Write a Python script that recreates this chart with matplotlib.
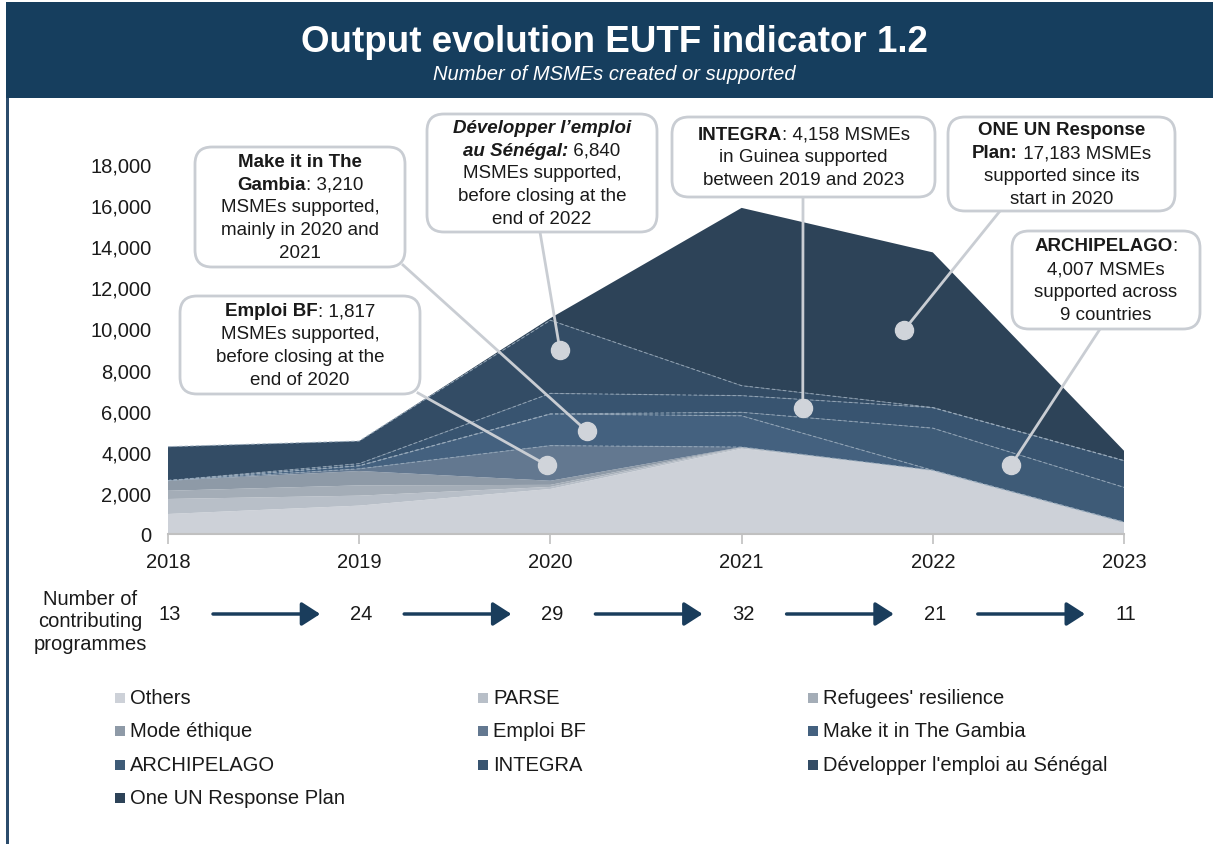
import matplotlib
matplotlib.use("Agg")
import matplotlib.pyplot as plt
from matplotlib.patches import FancyBboxPatch, Rectangle, FancyArrowPatch
from matplotlib.lines import Line2D
import numpy as np

plt.rcParams['font.family'] = ['Liberation Sans', 'DejaVu Sans']

# ---------------- data ----------------
years = [2018, 2019, 2020, 2021, 2022, 2023]
series_names = ["Others", "PARSE", "Refugees' resilience", "Mode éthique", "Emploi BF",
                "Make it in The Gambia", "ARCHIPELAGO", "INTEGRA",
                "Développer l'emploi au Sénégal", "One UN Response Plan"]
others      = [973, 1380, 2190, 4150, 3100, 580]
parse       = [730, 485, 100, 50, 0, 0]
refugees    = [400, 500, 100, 30, 0, 0]
mode_ethique = [495, 700, 200, 0, 0, 0]
emploi_bf   = [0, 107, 1710, 0, 0, 0]
gambia      = [0, 150, 1540, 1520, 0, 0]
archipelago = [0, 0, 0, 170, 2050, 1690]
integra     = [0, 100, 1000, 810, 1000, 1300]
developper  = [1650, 1100, 3560, 485, 0, 0]
one_un      = [0, 0, 100, 8650, 7550, 480]
programmes_count = [13, 24, 29, 32, 21, 11]
yticks = [0, 2000, 4000, 6000, 8000, 10000, 12000, 14000, 16000, 18000]

colors = ["#cdd1d8", "#b8bfc8", "#a4adb7", "#8e9aa7", "#637890",
          "#44617f", "#3e5b77", "#385470", "#334c65", "#2d4358"]

W, H = 1213, 845
fig = plt.figure(figsize=(W / 100, H / 100), dpi=100)
fig.patch.set_facecolor("white")

def fx(x):
    return x / W

def fy(y):
    return 1 - y / H

# header
fig.add_artist(Rectangle((fx(6), fy(99)), fx(1213) - fx(6), fy(3) - fy(99),
                         transform=fig.transFigure, facecolor="#163e5e",
                         edgecolor="none", zorder=1))
fig.add_artist(Rectangle((fx(6), fy(845)), fx(2.5), fy(99) - fy(845),
                         transform=fig.transFigure, facecolor="#2b4c6c",
                         edgecolor="none", zorder=1))
fig.text(fx(614), fy(42), "Output evolution EUTF indicator 1.2", color="white",
         fontsize=26.5, fontweight="bold", ha="center", va="center", zorder=2)
fig.text(fx(614), fy(75), "Number of MSMEs created or supported", color="white",
         fontsize=14.5, style="italic", ha="center", va="center", zorder=2)

# ---------------- axes ----------------
ax = fig.add_axes([fx(168), fy(535), fx(1124) - fx(168), fy(165) - fy(535)])
data = [others, parse, refugees, mode_ethique, emploi_bf, gambia,
        archipelago, integra, developper, one_un]
ax.stackplot(years, *data, colors=colors, labels=series_names, linewidth=0)
cum = np.cumsum(np.array(data, dtype=float), axis=0)
for i in range(4, 9):
    ax.plot(years, cum[i], color="#9aacbd", lw=0.8, ls=(0, (3, 2)), alpha=0.8)

ax.set_xlim(years[0], years[-1])
ax.set_ylim(0, 18000)
ax.set_yticks(yticks)
ax.set_yticklabels([f"{v:,}" for v in yticks], fontsize=14.5, color="#1a1a1a")
ax.set_xticks(years)
ax.set_xticklabels([str(y) for y in years], fontsize=14.5, color="#1a1a1a")
for s in ["top", "right", "left"]:
    ax.spines[s].set_visible(False)
ax.spines["bottom"].set_color("#c0c0c0")
ax.spines["bottom"].set_linewidth(1.5)
ax.tick_params(axis="y", length=0, pad=12)
ax.tick_params(axis="x", length=7, color="#c0c0c0", width=1.2, pad=6)
ax.set_facecolor("none")

# ---------------- annotations ----------------
renderer = fig.canvas.get_renderer()

def text_width(s, weight, style, fs):
    t = fig.text(0, 0, s, fontsize=fs, fontweight=weight, style=style)
    w = t.get_window_extent(renderer).width
    t.remove()
    return w

def rich_line(cx, cy, segments, fs):
    widths = [text_width(s, w, st, fs) for s, w, st in segments]
    total = sum(widths)
    x = cx - total / 2
    for (s, w, st), wd in zip(segments, widths):
        fig.text(fx(x), fy(cy), s, fontsize=fs, fontweight=w, style=st,
                 ha="left", va="center", color="#1a1a1a", zorder=8)
        x += wd

def box(x0, y0, x1, y1, lines, fs=13.5, spacing=22.8):
    fig.add_artist(FancyBboxPatch((fx(x0), fy(y1)), fx(x1) - fx(x0), fy(y0) - fy(y1),
                                  boxstyle="round,pad=0,rounding_size=0.014",
                                  transform=fig.transFigure, facecolor="white",
                                  edgecolor="#c9cdd3", lw=2, zorder=7,
                                  mutation_aspect=W / H))
    cx = (x0 + x1) / 2
    cy = (y0 + y1) / 2
    n = len(lines)
    for k, segs in enumerate(lines):
        rich_line(cx, cy + (k - (n - 1) / 2) * spacing, segs, fs)

def leader(start_px, dot_data):
    px, py = ax.transData.transform(dot_data)
    dx, dy = px / W, py / H
    fig.add_artist(Line2D([fx(start_px[0]), dx], [fy(start_px[1]), dy],
                          transform=fig.transFigure, color="#c9cdd3", lw=2, zorder=6))
    fig.add_artist(Line2D([dx], [dy], transform=fig.transFigure, marker="o",
                          markersize=13, markerfacecolor="#d0d4da",
                          markeredgecolor="#d0d4da", zorder=6))

N = ("normal", "normal")
B = ("bold", "normal")
BI = ("bold", "italic")

def seg(s, kind):
    return (s, kind[0], kind[1])

leader((403, 266), (2020.19, 5011))
box(195, 148, 405, 268, [
    [seg("Make it in The", B)],
    [seg("Gambia", B), seg(": 3,210", N)],
    [seg("MSMEs supported,", N)],
    [seg("mainly in 2020 and", N)],
    [seg("2021", N)],
])

leader((418, 394), (2019.98, 3357))
box(180, 297, 420, 395, [
    [seg("Emploi BF", B), seg(": 1,817", N)],
    [seg("MSMEs supported,", N)],
    [seg("before closing at the", N)],
    [seg("end of 2020", N)],
])

leader((540, 233), (2020.05, 8950))
box(427, 115, 657, 233, [
    [seg("Développer l\u2019emploi", BI)],
    [seg("au Sénégal:", BI), seg(" 6,840", N)],
    [seg("MSMEs supported,", N)],
    [seg("before closing at the", N)],
    [seg("end of 2022", N)],
])

leader((803, 198), (2021.32, 6130))
box(672, 118, 935, 198, [
    [seg("INTEGRA", B), seg(": 4,158 MSMEs", N)],
    [seg("in Guinea supported", N)],
    [seg("between 2019 and 2023", N)],
])

leader((1000, 212), (2021.85, 9925))
box(948, 118, 1175, 212, [
    [seg("ONE UN Response", B)],
    [seg("Plan:", B), seg(" 17,183 MSMEs", N)],
    [seg("supported since its", N)],
    [seg("start in 2020", N)],
])

leader((1100, 330), (2022.41, 3357))
box(1012, 232, 1200, 330, [
    [seg("ARCHIPELAGO", B), seg(":", N)],
    [seg("4,007 MSMEs", N)],
    [seg("supported across", N)],
    [seg("9 countries", N)],
])

# ---------------- contributing programmes row ----------------
fig.text(fx(90), fy(622), "Number of\ncontributing\nprogrammes", fontsize=14.5,
         ha="center", va="center", linespacing=1.25, color="#1a1a1a")
for yr, cnt in zip(years, programmes_count):
    px, _ = ax.transData.transform((yr, 0))
    fig.text(px / W + fx(2), fy(615), str(cnt), fontsize=14.5, ha="center",
             va="center", color="#1a1a1a")
for a in range(len(years) - 1):
    p0, _ = ax.transData.transform((years[a], 0))
    p1, _ = ax.transData.transform((years[a + 1], 0))
    x0 = p0 + 45
    x1 = p1 - 39
    fig.add_artist(FancyArrowPatch((fx(x0), fy(615)), (fx(x1), fy(615)),
                                   transform=fig.transFigure,
                                   arrowstyle="-|>,head_length=7,head_width=4.5",
                                   mutation_scale=1.6, color="#1a3d5c", lw=2.5,
                                   shrinkA=0, shrinkB=0))

# ---------------- legend ----------------
col_x = [115, 478, 808]
row_y = [699, 732, 766, 799]
for i, (name, c) in enumerate(zip(series_names, colors)):
    r, cidx = divmod(i, 3)
    x = col_x[cidx]
    y = row_y[r]
    fig.add_artist(Rectangle((fx(x), fy(y + 5)), fx(10), fy(y - 5) - fy(y + 5),
                             transform=fig.transFigure, facecolor=c,
                             edgecolor="none"))
    fig.text(fx(x + 15), fy(y), name, fontsize=14.5, ha="left", va="center",
             color="#1a1a1a")

fig.savefig("out.png", dpi=100)
